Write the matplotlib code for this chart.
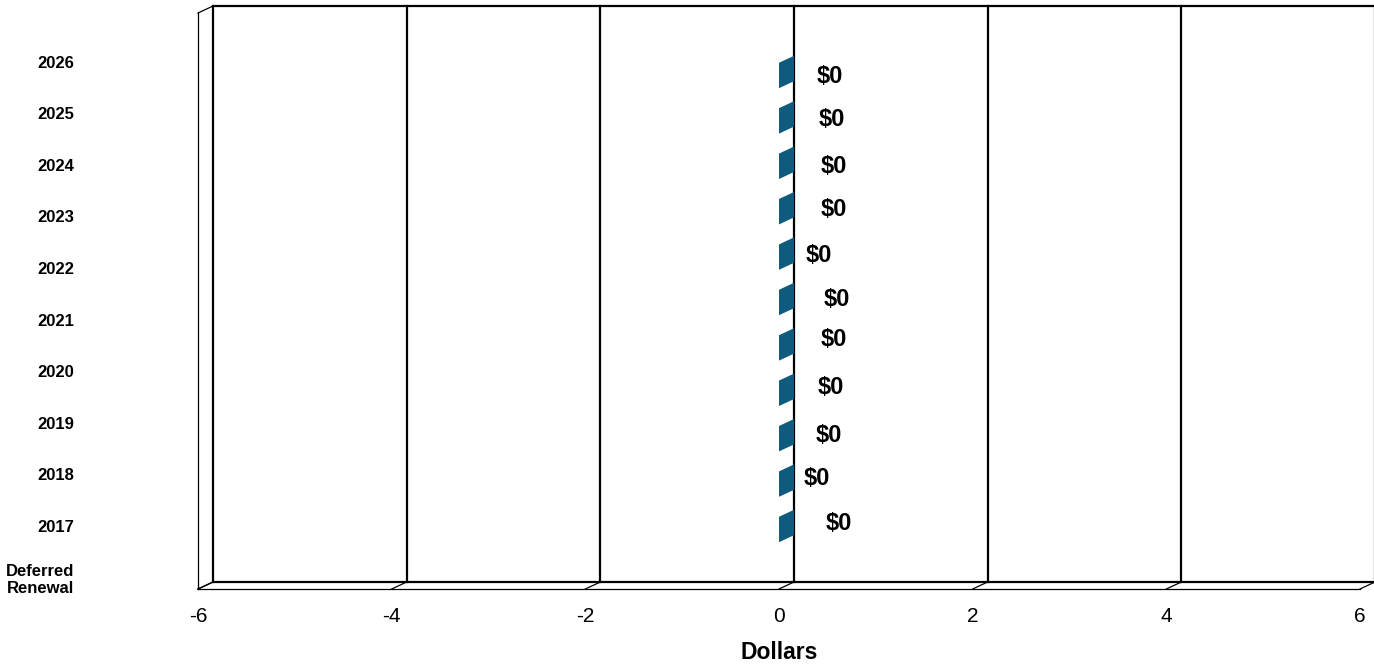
import matplotlib
matplotlib.use("Agg")
import matplotlib.pyplot as plt
from matplotlib.patches import Polygon
from matplotlib.transforms import ScaledTranslation

plt.rcParams['font.family'] = ['Liberation Sans', 'DejaVu Sans']
plt.rcParams['axes.unicode_minus'] = False

# ---- data -------------------------------------------------------------
categories = ["2026", "2025", "2024", "2023", "2022", "2021",
              "2020", "2019", "2018", "2017", "Deferred\nRenewal"]
bar_values = [0, 0, 0, 0, 0, 0, 0, 0, 0, 0, 0]
x_ticks = [-6, -4, -2, 0, 2, 4, 6]

# label nudges (pixels, relative to the bar's front edge)
label_dx = [51, 53, 55, 55, 40, 58, 55, 52, 50, 38, 60]
label_dy = [-1, 1, 0, 2, 2, 3, 8, 6, 3, 6, 6]

BAR_COLOR = "#0f5b7e"
DEPTH_X, DEPTH_Y = 15, 7          # 3-D depth offset in pixels
W, H = 1374, 668

fig = plt.figure(figsize=(W / 100, H / 100), dpi=100)
left_px, right_px, top_px, bot_px = 198, 1360, 13, 589
ax = fig.add_axes([left_px / W, 1 - bot_px / H,
                   (right_px - left_px) / W, (bot_px - top_px) / H])

n = len(bar_values)
first_px, step_px = 75.5, 45.4
ax.set_xlim(x_ticks[0], x_ticks[-1])
ax.set_ylim((bot_px - first_px) / step_px, (top_px - first_px) / step_px)
for s in ax.spines.values():
    s.set_visible(False)
ax.set_yticks([])
ax.set_xticks(x_ticks)
ax.tick_params(axis="x", length=0, pad=13, labelsize=15)
ax.set_xlabel("Dollars", fontsize=16.5, fontweight="bold", labelpad=11)

back = ax.transData + ScaledTranslation(DEPTH_X / 100, DEPTH_Y / 100,
                                        fig.dpi_scale_trans)


def to_back(x, y):
    px, py = ax.transData.transform((x, y))
    return tuple(ax.transData.inverted().transform((px + DEPTH_X, py + DEPTH_Y)))


y_bot, y_top = ax.get_ylim()
x0, x1 = x_ticks[0], x_ticks[-1]
thick, thin = 1.6, 0.9
kw = dict(color="black", clip_on=False, solid_capstyle="projecting")

# back wall: vertical gridlines and top edge
for g in x_ticks:
    ax.plot([g, g], [y_bot, y_top], transform=back, lw=thick, **kw)
ax.plot([x0, x1], [y_top, y_top], transform=back, lw=thick, **kw)

# left side wall
ax.plot([x0, x0], [y_bot, y_top], lw=thin, **kw)
for yy in (y_top, y_bot):
    bx, by = to_back(x0, yy)
    ax.plot([x0, bx], [yy, by], lw=thin, **kw)

# floor: back edge, front edge and depth lines at every tick
ax.plot([x0, x1], [y_bot, y_bot], transform=back, lw=thick, **kw)
ax.plot([x0, x1], [y_bot, y_bot], lw=thin, **kw)
for g in x_ticks:
    bx, by = to_back(g, y_bot)
    ax.plot([g, bx], [y_bot, by], lw=thin, **kw)

# bars (3-D style: front face plus end cap running into the depth)
bar_h = 0.56
ys = list(range(n))
ax.barh(ys, bar_values, height=bar_h, left=0, color=BAR_COLOR, zorder=3)
for i, v in enumerate(bar_values):
    ya, yb = i + bar_h / 2, i - bar_h / 2
    cap = [(v, ya), (v, yb), to_back(v, yb), to_back(v, ya)]
    ax.add_patch(Polygon(cap, closed=True, facecolor=BAR_COLOR,
                         edgecolor="none", zorder=3))
    if v != 0:
        top_face = [(0, yb), (v, yb), to_back(v, yb), to_back(0, yb)]
        ax.add_patch(Polygon(top_face, closed=True, facecolor=BAR_COLOR,
                             edgecolor="none", zorder=3))
    ax.annotate(f"${v:,.0f}", xy=(v, i), xytext=(label_dx[i], label_dy[i]),
                textcoords="offset pixels", ha="center", va="center",
                fontsize=17, fontweight="bold", zorder=4)

# category labels on the side wall
lab = ax.twinx()
lab.set_ylim((bot_px - 61.5) / 51.6, (top_px - 61.5) / 51.6)
lab.yaxis.tick_left()
lab.set_yticks(range(n))
lab.set_yticklabels(categories, fontsize=12, fontweight="bold",
                    ha="right", multialignment="center")
lab.tick_params(axis="y", length=0, pad=89)
for s in lab.spines.values():
    s.set_visible(False)
lab.patch.set_visible(False)

fig.savefig("out.png", dpi=100)
